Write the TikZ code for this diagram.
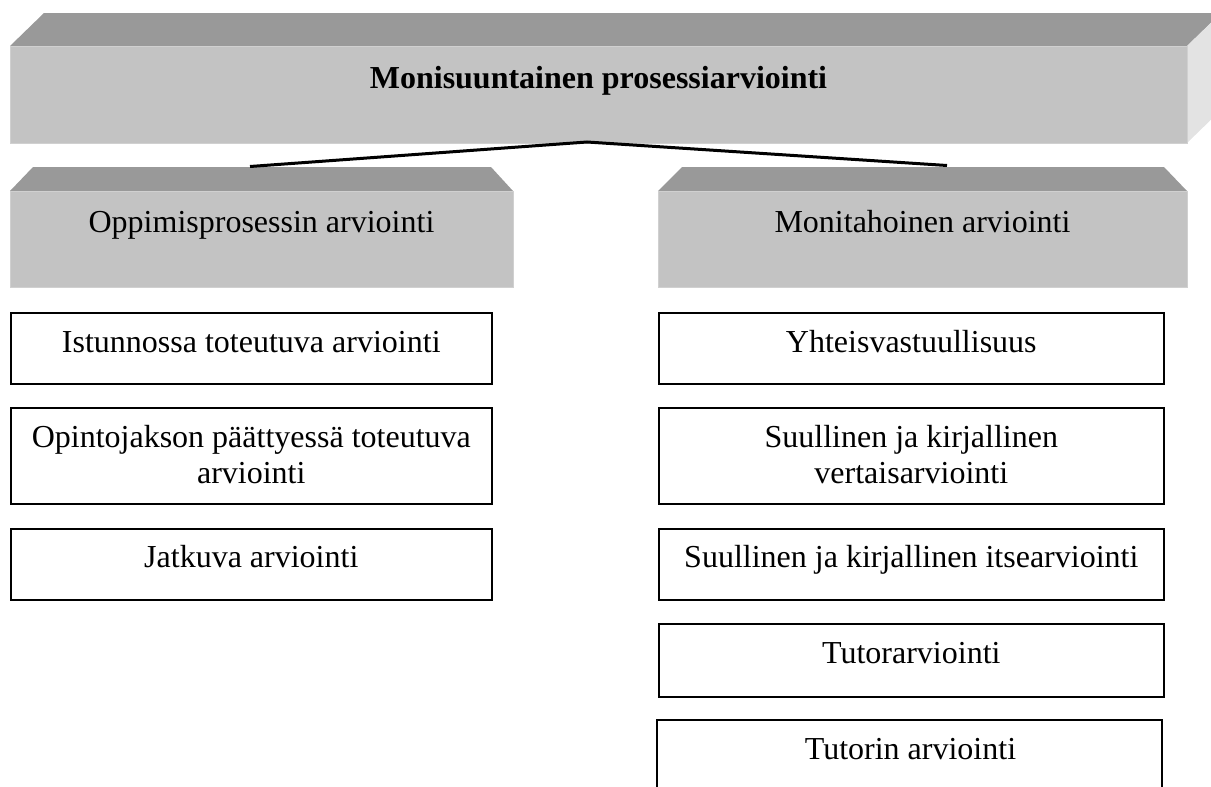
\documentclass[tikz,border=0pt]{standalone}
\usepackage{fontspec}
\setmainfont{Liberation Serif}
\usetikzlibrary{calc}
\definecolor{facetop}{RGB}{153,153,153}
\definecolor{facefront}{RGB}{195,195,195}
\definecolor{faceside}{RGB}{227,227,227}
\definecolor{faceedge}{RGB}{208,208,208}
\tikzset{
  topface/.style={fill=facetop},
  frontface/.style={fill=facefront, draw=faceedge, line width=1.2pt},
  sideface/.style={fill=faceside},
  itembox/.style={draw=black, line width=1.6pt, fill=white, inner sep=0pt, anchor=north west},
  boxtext/.style={anchor=base, inner sep=0pt, font=\fontsize{32}{36.8}\selectfont, align=center},
  link/.style={draw=black, line width=3pt},
}
\begin{document}
\begin{tikzpicture}[x=1pt, y=-1pt]
\useasboundingbox (0,0) rectangle (1211,787);
\clip (0,0) rectangle (1211,787);

% main block with top and side faces
\fill[topface] (10,46) -- (44,13) -- (1221,13) -- (1187,46) -- cycle;
\fill[sideface] (1187,46) -- (1221,13) -- (1221,110) -- (1187,143) -- cycle;
\node[frontface, inner sep=0pt, anchor=north west, minimum width=1177pt, minimum height=97pt] (main) at (10,46) {};
\node[boxtext, font=\fontsize{32}{36.8}\selectfont\bfseries] (maint) at (598.5,88) {Monisuuntainen prosessiarviointi};

% second level blocks
\fill[topface] (10,191) -- (33,167) -- (491,167) -- (513,191) -- cycle;
\node[frontface, inner sep=0pt, anchor=north west, minimum width=503pt, minimum height=96pt] (left) at (10,191) {};
\node[boxtext] (leftt) at (261.5,232) {Oppimisprosessin arviointi};

\fill[topface] (658,191) -- (682,167) -- (1164,167) -- (1187,191) -- cycle;
\node[frontface, inner sep=0pt, anchor=north west, minimum width=529pt, minimum height=96pt] (right) at (658,191) {};
\node[boxtext] (rightt) at (922.5,232) {Monitahoinen arviointi};

% connector from the main block to both branches
\coordinate (peak) at (587,142);
\coordinate (lend) at (250,166.5);
\coordinate (rend) at (947,165.5);
\draw[link] (lend) -- (peak) -- (rend);

% left column items
\node[itembox, minimum width=481pt, minimum height=71pt] (l1) at (10,312) {};
\node[boxtext] (l1t) at (l1.north |- 0,352) {Istunnossa toteutuva arviointi};
\node[itembox, minimum width=481pt, minimum height=96pt] (l2) at (10,407) {};
\node[boxtext] (l2t) at (l2.north |- 0,447) {Opintojakson päättyessä toteutuva};
\node[boxtext] (l2u) at (l2.north |- 0,483.5) {arviointi};
\node[itembox, minimum width=481pt, minimum height=71pt] (l3) at (10,528) {};
\node[boxtext] (l3t) at (l3.north |- 0,567) {Jatkuva arviointi};

% right column items
\node[itembox, minimum width=505pt, minimum height=71pt] (r1) at (658,312) {};
\node[boxtext] (r1t) at (r1.north |- 0,352) {Yhteisvastuullisuus};
\node[itembox, minimum width=505pt, minimum height=96pt] (r2) at (658,407) {};
\node[boxtext] (r2t) at (r2.north |- 0,447) {Suullinen ja kirjallinen};
\node[boxtext] (r2u) at (r2.north |- 0,483.5) {vertaisarviointi};
\node[itembox, minimum width=505pt, minimum height=71pt] (r3) at (658,528) {};
\node[boxtext] (r3t) at (r3.north |- 0,567) {Suullinen ja kirjallinen itsearviointi};
\node[itembox, minimum width=505pt, minimum height=73pt] (r4) at (658,623) {};
\node[boxtext] (r4t) at (r4.north |- 0,663) {Tutorarviointi};
\node[itembox, minimum width=505pt, minimum height=100pt] (r5) at (656,719) {};
\node[boxtext] (r5t) at (910.5,759) {Tutorin arviointi};
\end{tikzpicture}
\end{document}
